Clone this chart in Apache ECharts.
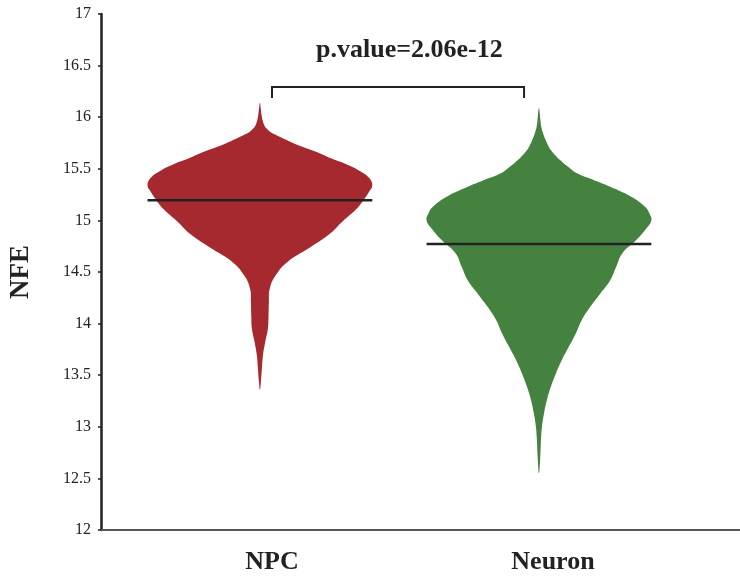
<!DOCTYPE html>
<html><head><meta charset="utf-8">
<script src="https://cdn.jsdelivr.net/npm/echarts@6/dist/echarts.min.js"></script>
<style>html,body{margin:0;padding:0;background:#fff}#c{width:740px;height:581px}</style>
</head><body><div id="c"></div>
<script>
// ---- data ----
const categories = ['NPC', 'Neuron'];
const labelPos = [1, 2];
const violinPos = [0.957, 1.95];
const medians = [15.195, 14.771];

const npcY = [16.14, 16.08, 16.02, 15.97, 15.92, 15.89, 15.86, 15.83, 15.80, 15.73, 15.67, 15.60, 15.54, 15.47, 15.41, 15.34, 15.28, 15.21, 15.12, 14.99, 14.86, 14.73, 14.60, 14.47, 14.34, 14.21, 14.08, 13.95, 13.82, 13.70, 13.57, 13.44, 13.36];
const npcDensity = [0, 0.008, 0.015, 0.024, 0.04, 0.06, 0.09, 0.14, 0.195, 0.336, 0.487, 0.637, 0.779, 0.903, 0.973, 1.0, 0.973, 0.93, 0.867, 0.735, 0.611, 0.434, 0.248, 0.142, 0.088, 0.08, 0.077, 0.071, 0.047, 0.028, 0.018, 0.009, 0];

const neuronY = [16.09, 16.03, 15.97, 15.90, 15.84, 15.79, 15.75, 15.68, 15.585, 15.52, 15.456, 15.39, 15.327, 15.23, 15.13, 15.07, 15.00, 14.91, 14.81, 14.68, 14.55, 14.42, 14.29, 14.16, 14.03, 13.91, 13.78, 13.65, 13.52, 13.39, 13.26, 13.13, 13.00, 12.87, 12.74, 12.55];
const neuronDensity = [0, 0.008, 0.013, 0.022, 0.038, 0.055, 0.071, 0.107, 0.1875, 0.259, 0.339, 0.491, 0.634, 0.821, 0.946, 0.982, 1.0, 0.946, 0.866, 0.741, 0.6875, 0.634, 0.545, 0.455, 0.379, 0.33, 0.268, 0.205, 0.152, 0.107, 0.071, 0.045, 0.027, 0.018, 0.013, 0];

const yMin = 12, yMax = 17, yStep = 0.5;
const bracketX = [1.0, 1.897];
const bracketY = [16.293, 16.186];
const pValueLabel = 'p.value=2.06e-12';
const pLabelPos = [1.489, 16.651];

// ---- style ----
const colors = ['#A5292F', '#45823F'];
const maxHalfWidth = 0.4;
const FONT = '"Liberation Serif", "Times New Roman", serif';
const violins = [{ y: npcY, d: npcDensity }, { y: neuronY, d: neuronDensity }];

function renderViolin(params, api) {
  const i = api.value(0);
  const v = violins[i];
  const cx = violinPos[i];
  const pts = [];
  for (let k = 0; k < v.y.length; k++) pts.push(api.coord([cx + v.d[k] * maxHalfWidth, v.y[k]]));
  for (let k = v.y.length - 2; k > 0; k--) pts.push(api.coord([cx - v.d[k] * maxHalfWidth, v.y[k]]));
  const l0 = api.coord([cx - maxHalfWidth, medians[i]]);
  const l1 = api.coord([cx + maxHalfWidth, medians[i]]);
  return {
    type: 'group',
    children: [
      { type: 'polygon', shape: { points: pts, smooth: 0.45 }, style: { fill: colors[i], stroke: null } },
      { type: 'line', shape: { x1: l0[0], y1: l0[1], x2: l1[0], y2: l1[1] }, style: { stroke: '#222', lineWidth: 2.5 } }
    ]
  };
}

function renderBracket(params, api) {
  const a = api.coord([bracketX[0], bracketY[1]]);
  const b = api.coord([bracketX[0], bracketY[0]]);
  const c = api.coord([bracketX[1], bracketY[0]]);
  const d = api.coord([bracketX[1], bracketY[1]]);
  const t = api.coord(pLabelPos);
  return {
    type: 'group',
    children: [
      { type: 'polyline', shape: { points: [a, b, c, d] }, style: { stroke: '#222', lineWidth: 2, fill: null } },
      { type: 'text', x: t[0], y: t[1], style: { text: pValueLabel, align: 'center', verticalAlign: 'middle', font: 'bold 26px ' + FONT, fill: '#222' } }
    ]
  };
}

const chart = echarts.init(document.getElementById('c'), null, { renderer: 'canvas' });
chart.setOption({
  animation: false,
  backgroundColor: '#fff',
  grid: { left: 101, right: 0, top: 14, bottom: 51 },
  xAxis: {
    type: 'value', min: 0.3915, max: 2.6655,
    splitLine: { show: false },
    axisTick: { show: false },
    axisLine: { show: true, lineStyle: { color: '#555', width: 2 } },
    axisLabel: {
      customValues: labelPos,
      formatter: (val) => categories[labelPos.indexOf(val)] || '',
      fontFamily: FONT, fontWeight: 'bold', fontSize: 26, color: '#222', margin: 19
    }
  },
  yAxis: {
    type: 'value', min: yMin, max: yMax, interval: yStep,
    name: 'NFE', nameLocation: 'middle', nameGap: 66,
    nameTextStyle: { fontFamily: FONT, fontWeight: 'bold', fontSize: 27, color: '#222' },
    splitLine: { show: false },
    axisLine: { show: true, lineStyle: { color: '#222', width: 2.5 } },
    axisTick: { show: true, length: 3, lineStyle: { color: '#222', width: 1.5 } },
    axisLabel: { fontFamily: FONT, fontSize: 16, color: '#222', margin: 10, padding: [3, 0, 0, 0] }
  },
  series: [
    { type: 'custom', renderItem: renderViolin, data: [[0], [1]], clip: false, encode: { x: -1, y: -1 } },
    { type: 'custom', renderItem: renderBracket, data: [[0]], clip: false, encode: { x: -1, y: -1 } }
  ]
});
</script></body></html>
